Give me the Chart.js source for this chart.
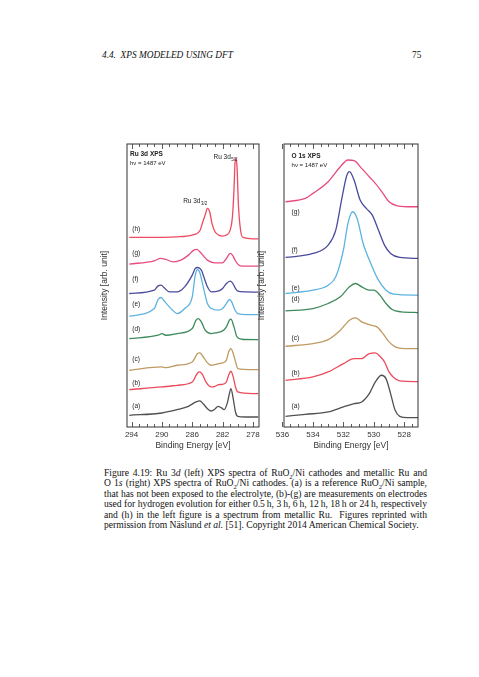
<!DOCTYPE html>
<html>
<head>
<meta charset="utf-8">
<script src="https://cdn.jsdelivr.net/npm/chart.js@4/dist/chart.umd.min.js"></script>
<style>
  body { margin: 0; width: 479px; height: 677px; background: #fff; position: relative; overflow: hidden; }
  .hdr { position: absolute; top: 50px; font: italic 9.3px "Liberation Serif", serif; color: #111; }
  .cap { position: absolute; left: 104px; top: 468px; width: 323px; font: 9.6px/10.4px "Liberation Serif", serif; color: #111; }
  .cap div { text-align: justify; text-align-last: justify; white-space: nowrap; }
  .cap div:last-child { text-align-last: left; }
  .cap sub { font-size: 6.5px; line-height: 0; }
  canvas { position: absolute; }
</style>
</head>
<body>
<div class="hdr" style="left:102px">4.4.&nbsp; XPS MODELED USING DFT</div>
<div class="hdr" style="left:412px;font-style:normal">75</div>
<canvas id="ru" width="165" height="312" style="left:100px;top:139px"></canvas>
<canvas id="o1s" width="167" height="312" style="left:257px;top:139px"></canvas>
<div class="cap">
<div>Figure 4.19: Ru 3<i>d</i> (left) XPS spectra of RuO<sub>2</sub>/Ni cathodes and metallic Ru and</div>
<div>O 1<i>s</i> (right) XPS spectra of RuO<sub>2</sub>/Ni cathodes. (a) is a reference RuO<sub>2</sub>/Ni sample,</div>
<div>that has not been exposed to the electrolyte, (b)-(g) are measurements on electrodes</div>
<div>used for hydrogen evolution for either 0.5&#8239;h, 3&#8239;h, 6&#8239;h, 12&#8239;h, 18&#8239;h or 24&#8239;h, respectively</div>
<div>and (h) in the left figure is a spectrum from metallic Ru.&nbsp; Figures reprinted with</div>
<div>permission from Näslund <i>et al.</i> [51]. Copyright 2014 American Chemical Society.</div>
</div>
<script>
// ---- Ru 3d panel (binding energy eV / intensity, arb.) ----
const ruTicks = [294, 290, 286, 282, 278];
const ruMinor = [294, 293, 292, 291, 290, 289, 288, 287, 286, 285, 284, 283, 282, 281, 280, 279, 278];

const ruE_a = [294.3, 290, 288, 286.5, 285.5, 285.0, 284.5, 284, 283.5, 283, 282.6, 282.2, 281.8, 281.4, 281.1, 280.9, 280.6, 280.3, 280.0, 279, 277.3];
const ruI_a = [35, 42, 52, 62, 75, 78, 68, 55, 48, 54, 62, 58, 52, 70, 100, 115, 85, 45, 32, 30, 30];
const ruE_b = [294.3, 290, 288, 286, 285.3, 285.0, 284.6, 284.2, 283.5, 283, 282.5, 282, 281.5, 281.2, 280.9, 280.6, 280.3, 280, 278, 277.3];
const ruI_b = [112, 120, 125, 135, 162, 165, 155, 135, 120, 122, 127, 128, 135, 155, 167, 150, 120, 105, 100, 100];
const ruE_c = [294.3, 290, 289.5, 288, 286, 285.3, 285.0, 284.6, 284, 283.5, 283, 282.5, 282, 281.5, 281.2, 280.9, 280.6, 280.2, 280, 278, 277.3];
const ruI_c = [170, 180, 178, 185, 195, 220, 222, 212, 192, 185, 187, 190, 192, 200, 225, 235, 220, 188, 175, 172, 172];
const ruE_d = [294.3, 290.5, 290, 289.5, 288, 286, 285.5, 285.2, 284.8, 284.3, 283.5, 283, 282, 281.5, 281.1, 280.9, 280.5, 280.1, 279.5, 277.3];
const ruI_d = [265, 275, 280, 275, 280, 295, 320, 325, 315, 290, 280, 282, 288, 300, 320, 323, 300, 270, 263, 262];
const ruE_e = [294.3, 291, 290.5, 290.1, 289.6, 288.5, 288, 287, 286, 285.6, 285.3, 285.0, 284.6, 284, 283.5, 282.5, 282, 281.5, 281.1, 280.8, 280.4, 280, 278.5, 277.3];
const ruI_e = [332, 355, 382, 388, 375, 348, 340, 355, 390, 455, 472, 462, 425, 370, 355, 350, 355, 370, 382, 375, 352, 340, 337, 337];
const ruE_f = [294.3, 291, 290.5, 290.1, 289.7, 289, 288, 287, 286, 285.6, 285.3, 284.8, 284.4, 284, 283.5, 282.5, 282, 281.5, 281.0, 280.7, 280.3, 280, 279, 277.3];
const ruI_f = [400, 410, 423, 425, 417, 405, 405, 420, 455, 475, 478, 470, 445, 420, 405, 408, 415, 430, 437, 432, 415, 407, 405, 404];
const ruE_g = [294.3, 291, 290.2, 289.5, 288.5, 287.5, 286.5, 285.8, 285.4, 285, 284.5, 284, 283, 282, 281.5, 281.0, 280.7, 280.4, 280, 279.5, 277.3];
const ruI_g = [488, 498, 505, 502, 495, 500, 515, 530, 532, 525, 512, 500, 492, 492, 505, 520, 515, 502, 488, 482, 482];
const ruE_h = [294.3, 288, 286, 285, 284.6, 284.3, 284.0, 283.7, 283.4, 283, 282.5, 282, 281.5, 281.0, 280.7, 280.5, 280.35, 280.25, 280.1, 279.9, 279.6, 279.3, 278, 277.3];
const ruI_h = [568, 570, 575, 588, 615, 635, 655, 645, 610, 585, 575, 572, 575, 590, 630, 710, 795, 805, 780, 660, 585, 568, 564, 564];
const ruLabelI = [62, 132, 204, 294, 367, 442, 522, 594];

// ---- O 1s panel ----
const oTicks = [536, 534, 532, 530, 528];
const oMinor = [536, 535.5, 535, 534.5, 534, 533.5, 533, 532.5, 532, 531.5, 531, 530.5, 530, 529.5, 529, 528.5, 528, 527.5];

const oE_a = [535.8, 534.5, 533, 532, 531.3, 530.8, 530.3, 529.9, 529.5, 529.2, 528.9, 528.6, 528.3, 527.8, 527.1];
const oI_a = [32, 38, 45, 60, 70, 75, 100, 135, 155, 145, 100, 50, 32, 28, 28];
const oE_b = [535.8, 534, 533, 532, 531.3, 530.8, 530.3, 529.9, 529.6, 529.3, 529, 528.7, 528.3, 527.1];
const oI_b = [140, 150, 165, 190, 205, 205, 220, 222, 212, 195, 165, 148, 138, 136];
const oE_c = [535.8, 534, 533, 532.2, 531.6, 531.2, 530.8, 530.2, 529.8, 529.4, 529, 528.6, 528, 527.1];
const oI_c = [242, 250, 262, 290, 320, 327, 315, 305, 300, 280, 255, 240, 235, 235];
const oE_d = [535.8, 534, 533, 532.2, 531.6, 531.2, 530.8, 530.3, 530, 529.6, 529.2, 528.8, 528.2, 527.1];
const oI_d = [348, 355, 370, 390, 420, 430, 420, 410, 410, 395, 370, 352, 345, 343];
const oE_e = [535.8, 534, 533, 532.5, 532, 531.7, 531.4, 531.1, 530.7, 530.2, 529.7, 529.2, 528.7, 527.1];
const oI_e = [400, 410, 425, 450, 530, 610, 645, 625, 550, 490, 440, 410, 398, 395];
const oE_f = [535.8, 534, 533, 532.5, 532.1, 531.8, 531.6, 531.3, 530.9, 530.5, 530.1, 529.7, 529.3, 528.9, 528.3, 527.1];
const oI_f = [508, 520, 545, 590, 685, 750, 765, 740, 680, 655, 635, 590, 545, 520, 508, 505];
const oE_g = [535.8, 534.5, 534, 533, 532.2, 531.7, 531.3, 530.8, 530.3, 529.9, 529.4, 529, 528.5, 527.8, 527.1];
const oI_g = [675, 685, 700, 735, 780, 800, 798, 775, 750, 730, 700, 675, 663, 660, 660];
const oLabelI = [62, 160, 265, 382, 417, 530, 645];

const letters = ["(a)", "(b)", "(c)", "(d)", "(e)", "(f)", "(g)", "(h)"];
const colors = ["#505050", "#ec4b5c", "#bf9a62", "#3f8a5c", "#5cb3e0", "#4a4b9c", "#e74d7c", "#ee4a60"];

const SANS = '"Liberation Sans", Arial, sans-serif';

function pts(E, I) {
  return E.map((e, i) => ({ x: e, y: I[i] }));
}

// frame + inward ticks + labels, all in scale space
function framePlugin(minor, major, labelE, labelI, notes) {
  return {
    id: "frame",
    afterDatasetsDraw(chart) {
      const { ctx, chartArea: a, scales: { x, y } } = chart;
      ctx.save();
      ctx.strokeStyle = "#333";
      ctx.lineWidth = 1;
      ctx.strokeRect(a.left, a.top, a.right - a.left, a.bottom - a.top);
      ctx.lineWidth = 0.8;
      ctx.beginPath();
      for (const v of minor) {
        const px = Math.round(x.getPixelForValue(v)) + 0.5;
        const len = major.includes(v) ? 5 : 3;
        ctx.moveTo(px, a.bottom); ctx.lineTo(px, a.bottom - len);
        ctx.moveTo(px, a.top); ctx.lineTo(px, a.top + len);
      }
      ctx.stroke();

      ctx.fillStyle = "#222";
      ctx.font = "6.5px " + SANS;
      ctx.textBaseline = "middle";
      labelI.forEach((v, i) => {
        ctx.fillText(letters[i], x.getPixelForValue(labelE), y.getPixelForValue(v));
      });
      for (const n of notes) {
        ctx.font = (n.bold ? "bold " : "") + n.size + "px " + SANS;
        const px = x.getPixelForValue(n.x), py = y.getPixelForValue(n.y);
        ctx.fillText(n.text, px, py);
        if (n.sub) {
          const w = ctx.measureText(n.text).width;
          ctx.font = "4.5px " + SANS;
          ctx.fillText(n.sub, px + w + 0.5, py + 2.5);
        }
      }
      ctx.restore();
    },
  };
}

function makeChart(id, seriesE, seriesI, xmin, xmax, ticks, minor, labelE, labelI, notes, padRight) {
  const datasets = seriesE.map((E, i) => ({
    data: pts(E, seriesI[i]),
    borderColor: colors[i],
    borderWidth: 1.3,
    pointRadius: 0,
    cubicInterpolationMode: "monotone",
    fill: false,
  }));
  return new Chart(document.getElementById(id), {
    type: "line",
    data: { datasets },
    options: {
      responsive: false,
      animation: false,
      layout: { padding: { top: 5, right: padRight, left: 0, bottom: 0 } },
      plugins: { legend: { display: false }, tooltip: { enabled: false } },
      scales: {
        x: {
          type: "linear", reverse: true, min: xmin, max: xmax,
          afterBuildTicks: (s) => { s.ticks = ticks.map(v => ({ value: v })); },
          afterFit: (s) => { s.height = 24; },
          grid: { display: false, drawTicks: false },
          border: { display: false },
          ticks: { padding: 3, color: "#333", font: { family: SANS, size: 8 }, maxRotation: 0, autoSkip: false,
                   callback: (v) => String(v) },
          title: { display: true, text: "Binding Energy [eV]", color: "#333", padding: 0,
                   font: { family: SANS, size: 8.5 } },
        },
        y: {
          min: 0, max: 848,
          afterFit: (s) => { s.width = 27; },
          grid: { display: false },
          border: { display: false },
          ticks: { display: false },
          title: { display: true, text: "Intensity [arb. unit]", color: "#333", padding: { top: 0, bottom: 4 },
                   font: { family: SANS, size: 8.5 } },
        },
      },
    },
    plugins: [framePlugin(minor, ticks, labelE, labelI, notes)],
  });
}

makeChart("ru",
  [ruE_a, ruE_b, ruE_c, ruE_d, ruE_e, ruE_f, ruE_g, ruE_h],
  [ruI_a, ruI_b, ruI_c, ruI_d, ruI_e, ruI_f, ruI_g, ruI_h],
  277.2, 294.6, ruTicks, ruMinor, 293.9, ruLabelI,
  [
    { text: "Ru 3d XPS", x: 294.2, y: 816, size: 6.5, bold: true },
    { text: "hν = 1487 eV", x: 294.2, y: 789, size: 6 },
    { text: "Ru 3d", sub: "5/2", x: 283.2, y: 808, size: 6.5 },
    { text: "Ru 3d", sub: "3/2", x: 287.2, y: 676, size: 6.5 },
  ], 6);

makeChart("o1s",
  [oE_a, oE_b, oE_c, oE_d, oE_e, oE_f, oE_g],
  [oI_a, oI_b, oI_c, oI_d, oI_e, oI_f, oI_g],
  527.1, 535.9, oTicks, oMinor, 535.4, oLabelI,
  [
    { text: "O 1s XPS", x: 535.4, y: 812, size: 6.5, bold: true },
    { text: "hν = 1487 eV", x: 535.4, y: 785, size: 6 },
  ], 6);
</script>
</body>
</html>
